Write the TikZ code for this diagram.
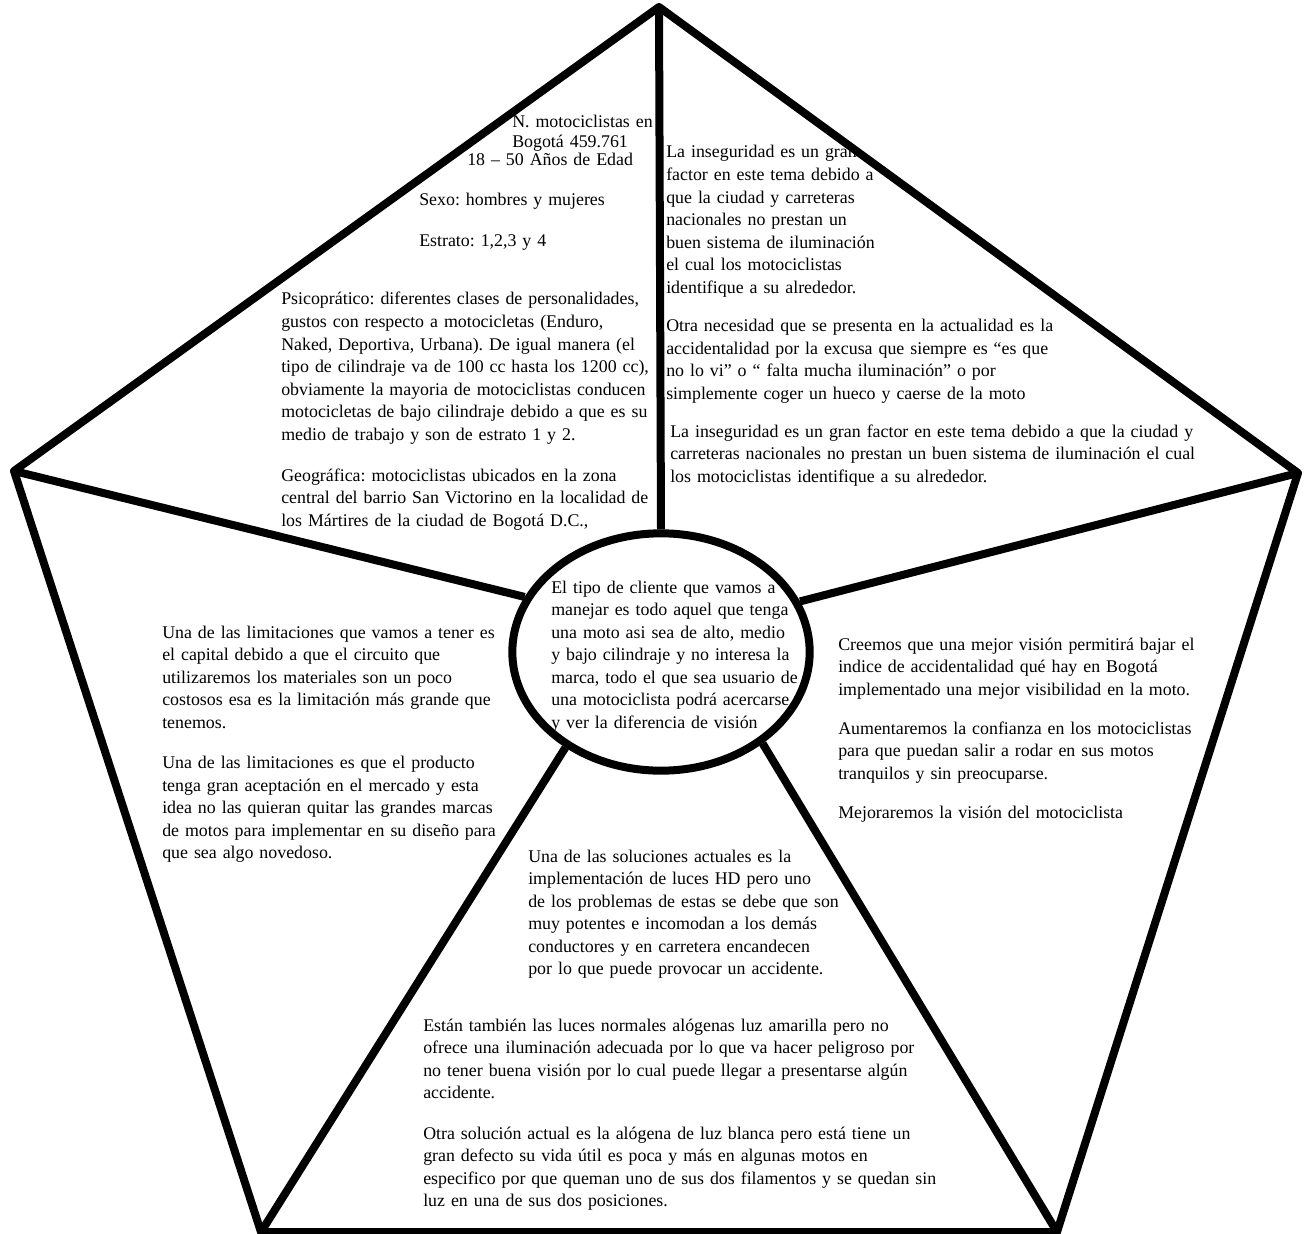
\documentclass[tikz,border=0pt]{standalone}
\usepackage{fontspec}
\setmainfont{Liberation Serif}
\frenchspacing
\usetikzlibrary{shapes.geometric}
\tikzset{
	txt/.style={anchor=base west,inner sep=0pt,text width=420pt,align=left,font=\fontsize{13.4}{16.9}\selectfont},
	borde/.style={line width=6pt,line join=round}
}
\begin{document}
\begin{tikzpicture}[x=.75pt,y=-.75pt]
			\useasboundingbox (0,0) rectangle (1311,1234);
			\coordinate (top) at (659,7);
			\coordinate (izq) at (14,471);
			\coordinate (der) at (1298,473);
			\coordinate (abizq) at (261,1232);
			\coordinate (abder) at (1057,1232);
			% textos
			\node[txt] (nmoto) at (512,128) {N. motociclistas en};
			\node[txt] (bogota) at (512,148) {Bogotá 459.761};
			\node[txt] (edad) at (467,166) {18 – 50 Años de Edad};
			\node[txt] (sexo) at (419,206) {Sexo: hombres y mujeres};
			\node[txt] (estrato) at (419,247) {Estrato: 1,2,3 y 4};
			\node[txt] (psico) at (281,305) {Psicoprático: diferentes clases de personalidades,\\ gustos con respecto a motocicletas (Enduro,\\ Naked, Deportiva, Urbana). De igual manera (el\\ tipo de cilindraje va de 100 cc hasta los 1200 cc),\\ obviamente la mayoria de motociclistas conducen\\ motocicletas de bajo cilindraje debido a que es su\\ medio de trabajo y son de estrato 1 y 2.\\[13.9pt] Geográfica: motociclistas ubicados en la zona\\ central del barrio San Victorino en la localidad de\\ los Mártires de la ciudad de Bogotá D.C.,};
			\node[txt] (inseg) at (666,158) {La inseguridad es un gran\\ factor en este tema debido a\\ que la ciudad y carreteras\\ nacionales no prestan un\\ buen sistema de iluminación\\ el cual los motociclistas\\ identifique a su alrededor.\\[12pt] Otra necesidad que se presenta en la actualidad es la\\ accidentalidad por la excusa que siempre es “es que\\ no lo vi” o “ falta mucha iluminación” o por\\ simplemente coger un hueco y caerse de la moto};
			\node[txt] (inseg2) at (670,437) {La inseguridad es un gran factor en este tema debido a que la ciudad y\\ carreteras nacionales no prestan un buen sistema de iluminación el cual\\ los motociclistas identifique a su alrededor.};
			\node[txt] (clientetxt) at (551,593) {El tipo de cliente que vamos a\\ manejar es todo aquel que tenga\\ una moto asi sea de alto, medio\\ y bajo cilindraje y no interesa la\\ marca, todo el que sea usuario de\\ una motociclista podrá acercarse\\ y ver la diferencia de visión};
			\node[txt] (limit) at (162,638) {Una de las limitaciones que vamos a tener es\\ el capital debido a que el circuito que\\ utilizaremos los materiales son un poco\\ costosos esa es la limitación más grande que\\ tenemos.\\[13.5pt] Una de las limitaciones es que el producto\\ tenga gran aceptación en el mercado y esta\\ idea no las quieran quitar las grandes marcas\\ de motos para implementar en su diseño para\\ que sea algo novedoso.};
			\node[txt] (vision) at (838,650) {Creemos que una mejor visión permitirá bajar el\\ indice de accidentalidad qué hay en Bogotá\\ implementado una mejor visibilidad en la moto.\\[12.4pt] Aumentaremos la confianza en los motociclistas\\ para que puedan salir a rodar en sus motos\\ tranquilos y sin preocuparse.\\[12.4pt] Mejoraremos la visión del motociclista};
			\node[txt] (soluc) at (528,862) {Una de las soluciones actuales es la\\ implementación de luces HD pero uno\\ de los problemas de estas se debe que son\\ muy potentes e incomodan a los demás\\ conductores y en carretera encandecen\\ por lo que puede provocar un accidente.};
			\node[txt] (alogen) at (423,1031) {Están también las luces normales alógenas luz amarilla pero no\\ ofrece una iluminación adecuada por lo que va hacer peligroso por\\ no tener buena visión por lo cual puede llegar a presentarse algún\\ accidente.\\[13.5pt] Otra solución actual es la alógena de luz blanca pero está tiene un\\ gran defecto su vida útil es poca y más en algunas motos en\\ especifico por que queman uno de sus dos filamentos y se quedan sin\\ luz en una de sus dos posiciones.};
			% pentagono y circulo
			\node[draw,ellipse,borde,inner sep=0pt,minimum width=223pt,minimum height=178pt] (cliente) at (661,652) {};
			\draw[borde] (top) -- (der) -- (abder) -- (abizq) -- (izq) -- cycle;
			\draw[borde] (top) -- (cliente.north);
			\draw[borde] (izq) -- (cliente.158);
			\draw[borde] (der) -- (cliente.20);
			\draw[borde] (abizq) -- (cliente.225);
			\draw[borde] (abder) -- (cliente.318);
		\end{tikzpicture}
\end{document}
